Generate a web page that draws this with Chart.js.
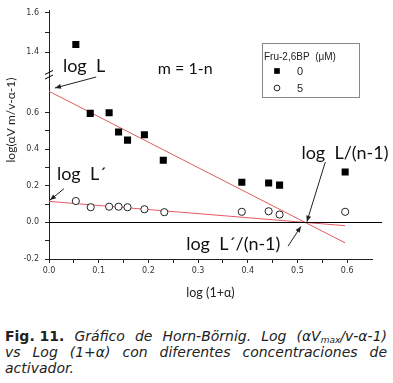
<!DOCTYPE html>
<html>
<head>
<meta charset="utf-8">
<script src="https://cdn.jsdelivr.net/npm/chart.js@4.4.0/dist/chart.umd.min.js"></script>
<style>
  body { margin: 0; background: #fff; width: 393px; height: 383px; overflow: hidden; position: relative; }
  #wrap { position: absolute; left: 0; top: 0; width: 393px; height: 300px; }
  #caption { position: absolute; left: 5px; top: 328px; width: 382px; font-family: 'DejaVu Sans', sans-serif;
             font-size: 14px; line-height: 16px; color: #222; }
  #caption .ln { text-align: justify; text-align-last: justify; white-space: nowrap; }
  #caption .fig { display: inline-block; font-weight: bold; }
  #caption sub { font-size: 9px; line-height: 0; vertical-align: -2px; }
</style>
</head>
<body>
<div id="wrap"><canvas id="hbChart"></canvas></div>
<div id="caption">
  <div class="ln"><span class="fig">Fig. 11.</span> <i>Gráfico de Horn-Börnig. Log (αV<sub>max</sub>/v-α-1)</i></div>
  <div class="ln"><i>vs Log (1+α) con diferentes concentraciones de</i></div>
  <div><i>activador.</i></div>
</div>
<script>
// Fru-2,6BP 0 uM (filled squares)
const sqX = [0.054, 0.083, 0.121, 0.140, 0.158, 0.192, 0.230, 0.388, 0.442, 0.464, 0.596];
const sqY = [1.44, 0.596, 0.600, 0.494, 0.450, 0.479, 0.340, 0.220, 0.216, 0.204, 0.276];
// Fru-2,6BP 5 uM (open circles)
const ciX = [0.054, 0.084, 0.121, 0.140, 0.158, 0.192, 0.232, 0.388, 0.442, 0.464, 0.596];
const ciY = [0.117, 0.083, 0.086, 0.086, 0.083, 0.072, 0.056, 0.058, 0.061, 0.043, 0.058];
// fitted lines (ends)
const fitX = [0, 0.596];
const fit0Y = [0.717, -0.112];
const fit5Y = [0.115, -0.018];

const seriesLabels = ['0', '5'];
const xTicks = [0, 0.05, 0.1, 0.15, 0.2, 0.25, 0.3, 0.35, 0.4, 0.45, 0.5, 0.55, 0.6];
const yTicksMajor = [-0.2, 0, 0.2, 0.4, 0.6, 1.4, 1.6];
const yTicksMinor = [-0.1, 0.1, 0.3, 0.5, 1.5];

// broken y axis: values above the break are squeezed down
function toAxis(v) { return v > 1 ? 0.93 + (v - 1.4) * 1.08 : v; }
function fromAxis(t) { return t > 0.86 ? 1.4 + (t - 0.93) / 1.08 : t; }

function pts(xs, ys) { return xs.map((x, i) => ({ x: x, y: toAxis(ys[i]) })); }

// text labels and arrows, in data units
const notes = [
  { text: 'log  L', x: 0.028, y: 0.822, size: 18 },
  { text: 'm = 1-n', x: 0.219, y: 0.81, size: 16 },
  { text: 'log  L´', x: 0.016, y: 0.232, size: 18 },
  { text: 'log  L/(n-1)', x: 0.508, y: 0.346, size: 18 },
  { text: 'log  L´/(n-1)', x: 0.276, y: -0.151, size: 18 }
];
const arrows = [
  [0.095, 0.795, 0.012, 0.735],
  [0.030, 0.184, 0.002, 0.122],
  [0.556, 0.330, 0.519, 0.004],
  [0.481, -0.130, 0.507, -0.022]
];

const decor = {
  id: 'decor',
  afterDatasetsDraw(chart) {
    const ctx = chart.ctx, xs = chart.scales.x, ys = chart.scales.y, ca = chart.chartArea;
    const px = v => xs.getPixelForValue(v);
    const py = v => ys.getPixelForValue(toAxis(v));
    ctx.save();
    // zero line
    ctx.strokeStyle = '#000';
    ctx.lineWidth = 1;
    ctx.beginPath();
    ctx.moveTo(ca.left, Math.round(py(0)) + 0.5);
    ctx.lineTo(ca.right + 10, Math.round(py(0)) + 0.5);
    ctx.stroke();

    // axis break marks
    [0.82, 0.795].forEach(t => {
      const y = py(t);
      ctx.beginPath();
      ctx.moveTo(ca.left - 4, y + 2);
      ctx.lineTo(ca.left + 4, y - 2);
      ctx.stroke();
    });

    // notes
    ctx.fillStyle = '#111';
    ctx.textAlign = 'left';
    ctx.textBaseline = 'alphabetic';
    notes.forEach(n => {
      ctx.font = n.size + 'px Lato, sans-serif';
      ctx.fillText(n.text, px(n.x), py(n.y));
    });
    ctx.strokeStyle = '#222';
    ctx.fillStyle = '#222';
    arrows.forEach(a => {
      const x1 = px(a[0]), y1 = py(a[1]), x2 = px(a[2]), y2 = py(a[3]);
      ctx.beginPath(); ctx.moveTo(x1, y1); ctx.lineTo(x2, y2); ctx.stroke();
      const ang = Math.atan2(y2 - y1, x2 - x1), L = 6, W = 2.5;
      ctx.beginPath();
      ctx.moveTo(x2, y2);
      ctx.lineTo(x2 - L * Math.cos(ang) + W * Math.sin(ang), y2 - L * Math.sin(ang) - W * Math.cos(ang));
      ctx.lineTo(x2 - L * Math.cos(ang) - W * Math.sin(ang), y2 - L * Math.sin(ang) + W * Math.cos(ang));
      ctx.closePath(); ctx.fill();
    });

    // y axis title
    ctx.save();
    ctx.translate(11, 120);
    ctx.rotate(-Math.PI / 2);
    ctx.font = '12px Lato, sans-serif';
    ctx.textAlign = 'center';
    ctx.textBaseline = 'middle';
    ctx.fillStyle = '#222';
    ctx.fillText('log(αV m/v-α-1)', 0, 0);
    ctx.restore();

    // legend box
    const bx = 262, by = 43, bw = 97, bh = 54;
    ctx.strokeStyle = '#888';
    ctx.strokeRect(bx + 0.5, by + 0.5, bw, bh);
    ctx.fillStyle = '#222';
    ctx.font = '10px "Liberation Sans", sans-serif';
    ctx.fillText('Fru-2,6BP  (μM)', bx + 2, by + 17);
    chart.data.datasets.slice(0, 2).forEach((ds, i) => {
      const y = by + 28 + i * 17;
      ctx.fillStyle = ds.backgroundColor;
      ctx.strokeStyle = ds.borderColor;
      ctx.lineWidth = ds.borderWidth || 0.01;
      Chart.helpers.drawPoint(ctx, { pointStyle: ds.pointStyle, radius: ds.pointRadius * 0.8, borderWidth: ds.borderWidth }, bx + 15, y);
      ctx.fillStyle = '#222';
      ctx.font = '11px "Liberation Sans", sans-serif';
      ctx.textBaseline = 'middle';
      ctx.fillText(ds.label, bx + 35, y + 1);
      ctx.textBaseline = 'alphabetic';
    });
    ctx.restore();
  }
};

const tickFont = { family: 'DejaVu Sans', size: 8 };

new Chart(document.getElementById('hbChart'), {
  type: 'scatter',
  data: {
    datasets: [
      { label: seriesLabels[0], data: pts(sqX, sqY), pointStyle: 'rect', pointRadius: 5,
        backgroundColor: '#000', borderColor: '#000', borderWidth: 0 },
      { label: seriesLabels[1], data: pts(ciX, ciY), pointStyle: 'circle', pointRadius: 3.6,
        backgroundColor: '#fff', borderColor: '#222', borderWidth: 1 },
      { type: 'line', label: 'fit 0', data: pts(fitX, fit0Y), borderColor: 'rgb(228,90,100)', borderWidth: 1,
        pointRadius: 0, fill: false },
      { type: 'line', label: 'fit 5', data: pts(fitX, fit5Y), borderColor: 'rgb(228,90,100)', borderWidth: 1,
        pointRadius: 0, fill: false }
    ]
  },
  options: {
    responsive: true,
    maintainAspectRatio: false,
    animation: false,
    devicePixelRatio: 1,
    layout: { padding: { left: 0, right: 21, top: 8, bottom: 0 } },
    plugins: { legend: { display: false }, tooltip: { enabled: false } },
    scales: {
      x: {
        type: 'linear', min: 0, max: 0.65,
        afterBuildTicks: s => { s.ticks = xTicks.map(v => ({ value: v })); },
        afterFit: s => { s.height = 41; },
        ticks: {
          font: tickFont, color: '#333', padding: 3, maxRotation: 0, autoSkip: false,
          callback: v => (Math.round(v * 100) % 10 === 0 ? v.toFixed(1) : '')
        },
        grid: { drawOnChartArea: false, tickLength: 4, tickColor: '#222' },
        border: { color: '#222', width: 1 },
        title: { display: true, text: 'log (1+α)', font: { family: 'Lato', size: 12.5 }, color: '#222', padding: { top: 6, bottom: 0 } }
      },
      y: {
        type: 'linear', min: -0.2, max: 1.157,
        afterBuildTicks: s => {
          s.ticks = yTicksMajor.concat(yTicksMinor).map(v => ({ value: toAxis(v) })).sort((a, b) => a.value - b.value);
        },
        afterFit: s => { s.width = 49; },
        ticks: {
          font: tickFont, color: '#333', padding: 6, autoSkip: false,
          callback: t => {
            const v = fromAxis(t);
            return yTicksMajor.some(m => Math.abs(m - v) < 1e-6) ? v.toFixed(1) : '';
          }
        },
        grid: { drawOnChartArea: false, tickLength: 4, tickColor: '#222' },
        border: { color: '#222', width: 1 }
      }
    }
  },
  plugins: [decor]
});
</script>
</body>
</html>
